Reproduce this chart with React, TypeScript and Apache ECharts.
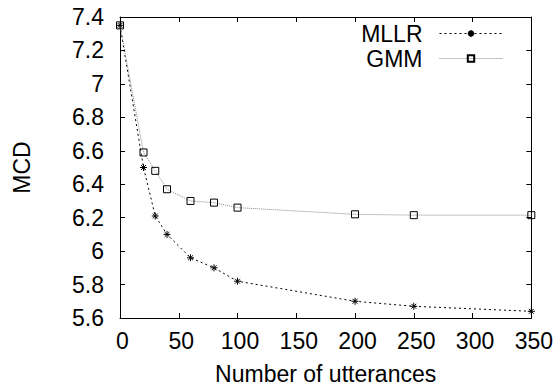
import React, { useEffect, useRef } from "react";
import * as echarts from "echarts";

const xValues = [0, 20, 30, 40, 60, 80, 100, 200, 250, 350];
const mllrValues = [7.35, 6.5, 6.21, 6.1, 5.96, 5.9, 5.82, 5.7, 5.67, 5.64];
const gmmValues = [7.35, 6.59, 6.48, 6.37, 6.3, 6.29, 6.26, 6.22, 6.215, 6.215];
const seriesNames = ["MLLR", "GMM"];
const xAxisName = "Number of utterances";
const yAxisName = "MCD";

const FONT = "Liberation Sans, Arial, Helvetica, sans-serif";
const STAR = "path://M0,4L8,4M4,0L4,8M1.2,1.2L6.8,6.8M1.2,6.8L6.8,1.2";

export default function App() {
  const ref = useRef<HTMLDivElement>(null);
  useEffect(() => {
    document.body.style.margin = "0";
    const chart = echarts.init(ref.current!, null, { renderer: "svg" });
    const tickStyle = { show: true, inside: true, length: 5, lineStyle: { color: "#000", width: 1 } };
    const lineStyleAxis = { show: true, onZero: false, lineStyle: { color: "#000", width: 1 } };
    chart.setOption({
      animation: false,
      backgroundColor: "#fff",
      textStyle: { fontFamily: FONT },
      grid: { left: 120, right: 24, top: 17, bottom: 71, containLabel: false },
      legend: {
        data: seriesNames,
        orient: "vertical",
        right: 53,
        top: 22,
        padding: 0,
        align: "right",
        itemWidth: 63,
        itemHeight: 8,
        itemGap: 2,
        lineStyle: { width: 1 },
        textStyle: { fontSize: 23, color: "#000", fontFamily: FONT, padding: [0, 12, 0, 0] },
      },
      xAxis: [
        {
          type: "value",
          min: 0,
          max: 350,
          interval: 50,
          position: "bottom",
          axisLine: lineStyleAxis,
          axisTick: tickStyle,
          splitLine: { show: false },
          axisLabel: { fontSize: 23, color: "#000", margin: 11, fontFamily: FONT, padding: [0, 0, 0, 5] },
          name: xAxisName,
          nameLocation: "middle",
          nameGap: 44,
          nameTextStyle: { fontSize: 23, color: "#000", fontFamily: FONT },
        },
        {
          type: "value",
          min: 0,
          max: 350,
          interval: 50,
          position: "top",
          axisLine: lineStyleAxis,
          axisTick: tickStyle,
          splitLine: { show: false },
          axisLabel: { show: false },
        },
      ],
      yAxis: [
        {
          type: "value",
          min: 5.6,
          max: 7.4,
          interval: 0.2,
          position: "left",
          axisLine: lineStyleAxis,
          axisTick: tickStyle,
          splitLine: { show: false },
          axisLabel: { fontSize: 23, color: "#000", margin: 16, fontFamily: FONT },
          name: yAxisName,
          nameLocation: "middle",
          nameGap: 87,
          nameTextStyle: { fontSize: 23, color: "#000", fontFamily: FONT },
        },
        {
          type: "value",
          min: 5.6,
          max: 7.4,
          interval: 0.2,
          position: "right",
          axisLine: lineStyleAxis,
          axisTick: tickStyle,
          splitLine: { show: false },
          axisLabel: { show: false },
        },
      ],
      series: [
        {
          name: seriesNames[0],
          type: "line",
          data: xValues.map((x, i) => [x, mllrValues[i]]),
          symbol: STAR,
          symbolSize: 7,
          lineStyle: { color: "#000", width: 1, type: [2, 3] },
          itemStyle: { color: "#000", borderColor: "#000", borderWidth: 1 },
        },
        {
          name: seriesNames[1],
          type: "line",
          data: xValues.map((x, i) => [x, gmmValues[i]]),
          symbol: "rect",
          symbolSize: 7,
          lineStyle: { color: "#888", width: 1, type: [1, 1] },
          itemStyle: { color: "rgba(255,255,255,0)", borderColor: "#000", borderWidth: 1 },
        },
      ],
    });
    return () => chart.dispose();
  }, []);
  return <div ref={ref} style={{ width: 556, height: 390 }} />;
}
